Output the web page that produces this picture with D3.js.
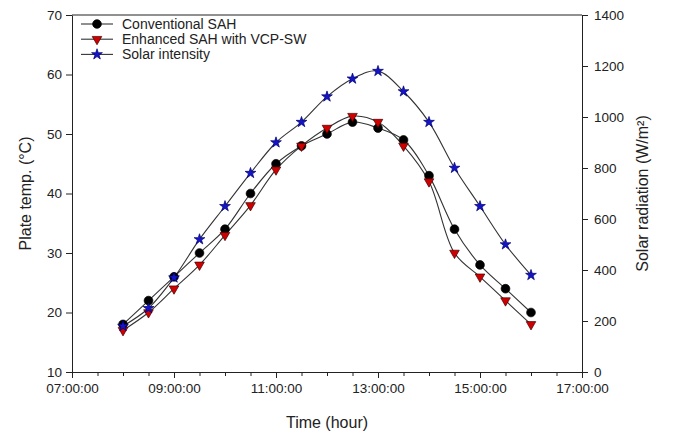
<!DOCTYPE html>
<html>
<head>
<meta charset="utf-8">
<script src="https://cdn.jsdelivr.net/npm/d3@7"></script>
<style>
  body { margin: 0; background: #fff; }
  svg { display: block; }
  text { font-family: "Liberation Sans", Arial, sans-serif; fill: #222; }
</style>
</head>
<body>
<svg id="chart" width="673" height="442"></svg>
<script>
// ---- data ----
const times = ["08:00:00","08:30:00","09:00:00","09:30:00","10:00:00","10:30:00","11:00:00","11:30:00","12:00:00",
               "12:30:00","13:00:00","13:30:00","14:00:00","14:30:00","15:00:00","15:30:00","16:00:00"];
const conventional = [18, 22, 26, 30, 34, 40, 45, 48, 50, 52, 51, 49, 43, 34, 28, 24, 20];
const enhanced     = [17, 20, 24, 28, 33, 38, 44, 48, 51, 53, 52, 48, 42, 30, 26, 22, 18];
const solar        = [180, 250, 370, 520, 650, 780, 900, 980, 1080, 1150, 1180, 1100, 980, 800, 650, 500, 380];
const xTickLabels = ["07:00:00","09:00:00","11:00:00","13:00:00","15:00:00","17:00:00"];
const yLeftTicks = [10, 20, 30, 40, 50, 60, 70];
const yRightTicks = [0, 200, 400, 600, 800, 1000, 1200, 1400];
const seriesNames = ["Conventional SAH", "Enhanced SAH with VCP-SW", "Solar intensity"];

// ---- helpers ----
const toHours = s => { const p = s.split(":").map(Number); return p[0] + p[1] / 60 + (p[2] || 0) / 3600; };
const hrs = times.map(toHours);

const svg = d3.select("#chart");
const m = { left: 72, right: 582, top: 15, bottom: 372 };

const x = d3.scaleLinear().domain([7, 17]).range([m.left, m.right]);
const yL = d3.scaleLinear().domain([10, 70]).range([m.bottom, m.top]);
const yR = d3.scaleLinear().domain([0, 1400]).range([m.bottom, m.top]);

const fs = "13.5px";

// frame top line
svg.append("line").attr("x1", m.left).attr("x2", m.right).attr("y1", m.top).attr("y2", m.top)
  .attr("stroke", "#222").attr("stroke-width", 1);

// x axis (major + minor)
const majorX = xTickLabels.map(toHours);
const minorX = d3.range(7, 17.01, 0.5).filter(v => !majorX.includes(v));
const gx = svg.append("g").attr("transform", `translate(0,${m.bottom})`)
  .call(d3.axisBottom(x).tickValues(majorX).tickSize(6).tickPadding(5)
    .tickFormat((d, i) => xTickLabels[i]));
gx.selectAll(".tick text").style("font-size", fs).attr("fill", "#222");
const gxm = svg.append("g").attr("transform", `translate(0,${m.bottom})`)
  .call(d3.axisBottom(x).tickValues(minorX).tickSize(4).tickFormat(""));
gxm.select(".domain").remove();

// left axis
const gl = svg.append("g").attr("transform", `translate(${m.left},0)`)
  .call(d3.axisLeft(yL).tickValues(yLeftTicks).tickSize(6).tickPadding(4).tickSizeOuter(0)
    .tickFormat(d3.format("d")));
gl.selectAll(".tick text").style("font-size", fs).attr("fill", "#222");

// right axis
const gr = svg.append("g").attr("transform", `translate(${m.right},0)`)
  .call(d3.axisRight(yR).tickValues(yRightTicks).tickSize(6).tickPadding(6).tickSizeOuter(0)
    .tickFormat(d3.format("d")));
gr.selectAll(".tick text").style("font-size", fs).attr("fill", "#222");

svg.selectAll(".domain, .tick line").attr("stroke", "#222");

// axis titles
svg.append("text").attr("x", (m.left + m.right) / 2).attr("y", 428)
  .attr("text-anchor", "middle").style("font-size", "16px").text("Time (hour)");
svg.append("text").attr("transform", `translate(31,${(m.top + m.bottom) / 2}) rotate(-90)`)
  .attr("text-anchor", "middle").style("font-size", "16px").text("Plate temp. (°C)");
svg.append("text").attr("transform", `translate(648,${(m.top + m.bottom) / 2}) rotate(-90)`)
  .attr("text-anchor", "middle").style("font-size", "16px").text("Solar radiation (W/m²)");

// series
const styles = [
  { sym: d3.symbol().type(d3.symbolCircle).size(60), fill: "#000", stroke: "#000", rot: 0 },
  { sym: d3.symbol().type(d3.symbolTriangle).size(40), fill: "#d00000", stroke: "#400000", rot: 180 },
  { sym: d3.symbol().type(d3.symbolStar).size(36), fill: "#1414c8", stroke: "#000070", rot: 0 }
];
const data = [
  { vals: conventional, y: yL },
  { vals: enhanced, y: yL },
  { vals: solar, y: yR }
];

const line = (ys) => d3.line().x(d => x(d[0])).y(d => ys(d[1])).curve(d3.curveCatmullRom.alpha(0.5));

data.forEach(s => {
  const pts = hrs.map((h, i) => [h, s.vals[i]]);
  svg.append("path").datum(pts).attr("d", line(s.y)).attr("fill", "none")
    .attr("stroke", "#333").attr("stroke-width", 1.1);
});
data.forEach((s, k) => {
  const st = styles[k];
  svg.append("g").selectAll("path").data(hrs.map((h, i) => [h, s.vals[i]])).join("path")
    .attr("d", st.sym())
    .attr("transform", d => `translate(${x(d[0])},${s.y(d[1])}) rotate(${st.rot})`)
    .attr("fill", st.fill).attr("stroke", st.stroke).attr("stroke-width", 0.7);
});

// legend
const lg = svg.append("g");
seriesNames.forEach((name, k) => {
  const yy = 24 + k * 15.2;
  const st = styles[k];
  lg.append("line").attr("x1", 81).attr("x2", 113).attr("y1", yy).attr("y2", yy)
    .attr("stroke", "#333").attr("stroke-width", 1.1);
  lg.append("path").attr("d", st.sym()).attr("transform", `translate(97,${yy}) rotate(${st.rot})`)
    .attr("fill", st.fill).attr("stroke", st.stroke).attr("stroke-width", 0.7);
  lg.append("text").attr("x", 122).attr("y", yy + 5).style("font-size", "14px").text(name);
});
</script>
</body>
</html>
